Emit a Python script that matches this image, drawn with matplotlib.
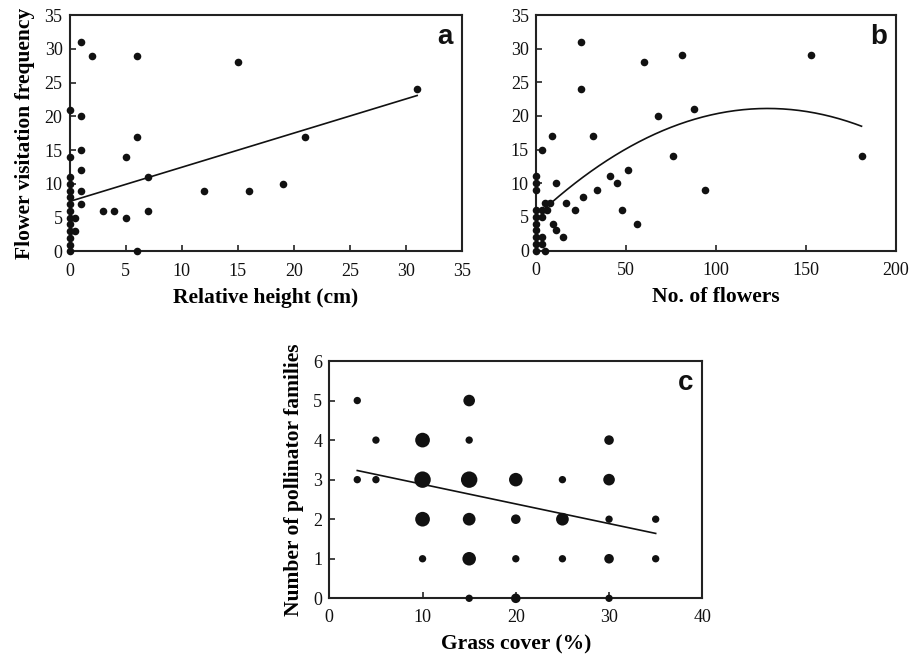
import matplotlib
matplotlib.use("Agg")
import matplotlib.pyplot as plt
import numpy as np

# ---- Panel a: relative height vs visitation frequency ----
height_x = [0, 0, 0, 0, 0, 0, 0, 0, 0, 0, 0, 0, 0, 0,
            1, 2, 6, 15, 1, 6, 1, 5, 1, 7, 1, 1, 3, 4, 5, 7,
            0.5, 0.5, 6, 12, 16, 19, 21, 31]
height_y = [0, 1, 2, 3, 4, 5, 6, 7, 8, 9, 10, 11, 14, 21,
            31, 29, 29, 28, 20, 17, 15, 14, 12, 11, 9, 7, 6, 6, 5, 6,
            5, 3, 0, 9, 9, 10, 17, 24]
fit_a_x = [0, 31]
fit_a_intercept = 7.4
fit_a_slope = 0.506

# ---- Panel b: number of flowers vs visitation frequency ----
flowers_x = [0, 0, 0, 0, 0, 0, 0, 0, 0, 0,
             25, 25, 60, 81, 88, 68, 9, 32, 3.5, 76, 51, 41, 45, 11.5,
             34, 94, 26, 17, 22, 48, 56, 15, 11.5, 9.5, 5, 8, 3.5, 6,
             3.5, 3.5, 3.5, 5, 153, 181]
flowers_y = [0, 1, 2, 3, 4, 5, 6, 9, 10, 11,
             31, 24, 28, 29, 21, 20, 17, 17, 15, 14, 12, 11, 10, 10,
             9, 9, 8, 7, 6, 6, 4, 2, 3, 4, 7, 7, 6, 6,
             5, 2, 1, 0, 29, 14]
fit_b_range = [4, 181]
fit_b_coef = [5.0, 0.25, -0.00097]   # a + b*x + c*x^2

# ---- Panel c: grass cover vs number of pollinator families ----
grass_x = [3, 15, 5, 10, 15, 30, 3, 5, 10, 15, 20, 25, 30,
           10, 15, 20, 25, 30, 35, 10, 15, 20, 25, 30, 35, 15, 20, 30]
families_y = [5, 5, 4, 4, 4, 4, 3, 3, 3, 3, 3, 3, 3,
              2, 2, 2, 2, 2, 2, 1, 1, 1, 1, 1, 1, 0, 0, 0]
site_counts = [1, 2.5, 1, 4, 1, 1.7, 1, 1, 5, 5, 3.4, 1, 2.5,
               4, 3, 1.7, 3, 1, 1, 1, 3.4, 1, 1, 1.7, 1, 1, 1.7, 1]
fit_c_x = [3, 35]
fit_c_intercept = 3.38
fit_c_slope = -0.0497

serif = "Liberation Serif"
sans = "Liberation Sans"
plt.rcParams["font.family"] = serif

fig = plt.figure(figsize=(9.11, 6.57), dpi=100)

def style(ax, xlim, ylim, xticks, yticks, xlabel, ylabel, letter):
    ax.set_xlim(*xlim)
    ax.set_ylim(*ylim)
    ax.set_xticks(xticks)
    ax.set_yticks(yticks)
    ax.tick_params(direction="in", length=4, width=1.1, labelsize=13,
                   colors="#111111")
    ax.tick_params(axis="x", pad=8)
    ax.tick_params(axis="y", pad=5)
    for sp in ax.spines.values():
        sp.set_linewidth(1.5)
        sp.set_color("#222222")
    ax.set_xlabel(xlabel, fontsize=15.5, fontweight="bold", family=serif, labelpad=6)
    if ylabel:
        ax.set_ylabel(ylabel, fontsize=15.5, fontweight="bold", family=serif, labelpad=7)
    ax.text(0.975, 0.96, letter, transform=ax.transAxes, ha="right", va="top",
            fontsize=20, fontweight="bold", family=sans, color="#111111")

# Panel a
ax_a = fig.add_axes([69.5 / 911, 1 - 251.5 / 657, 392.5 / 911, 236.5 / 657])
ax_a.scatter(height_x, height_y, s=30, color="#111111", zorder=3, clip_on=False,
             linewidths=0)
xa = np.array(fit_a_x, dtype=float)
ax_a.plot(xa, fit_a_intercept + fit_a_slope * xa, color="#111111", lw=1.2)
style(ax_a, (0, 35), (0, 35), range(0, 36, 5), range(0, 36, 5),
      "Relative height (cm)", "Flower visitation frequency", "a")

# Panel b
ax_b = fig.add_axes([535.7 / 911, 1 - 250.5 / 657, 360 / 911, 235.5 / 657])
ax_b.scatter(flowers_x, flowers_y, s=30, color="#111111", zorder=3, clip_on=False,
             linewidths=0)
xb = np.linspace(fit_b_range[0], fit_b_range[1], 200)
ax_b.plot(xb, fit_b_coef[0] + fit_b_coef[1] * xb + fit_b_coef[2] * xb ** 2,
          color="#111111", lw=1.2)
style(ax_b, (0, 200), (0, 35), range(0, 201, 50), range(0, 36, 5),
      "No. of flowers", None, "b")

# Panel c
ax_c = fig.add_axes([329.3 / 911, 1 - 598.3 / 657, 373 / 911, 237.3 / 657])
ax_c.scatter(grass_x, families_y, s=[28 * n for n in site_counts],
             color="#111111", zorder=3, clip_on=False, linewidths=0)
xc = np.array(fit_c_x, dtype=float)
ax_c.plot(xc, fit_c_intercept + fit_c_slope * xc, color="#111111", lw=1.2)
style(ax_c, (0, 40), (0, 6), range(0, 41, 10), range(0, 7, 1),
      "Grass cover (%)", "Number of pollinator families", "c")

fig.savefig("out.png", dpi=100, facecolor="white")
